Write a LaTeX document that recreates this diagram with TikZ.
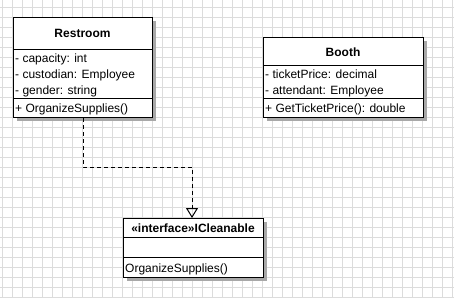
\documentclass[tikz,border=0pt]{standalone}
\usepackage{fontspec}
\setmainfont{Liberation Sans}
\usetikzlibrary{arrows.meta,shadows}
\definecolor{gridc}{HTML}{DCDCDC}
\definecolor{shadowc}{HTML}{A8A8A8}
\begin{document}
\begin{tikzpicture}[x=1pt,y=-1pt,
  classbox/.style={draw=black, line width=1pt, fill=white, inner sep=0pt, anchor=north west,
    drop shadow={shadow xshift=3pt, shadow yshift=-3pt, fill=shadowc, opacity=1}},
  titletext/.style={font=\fontsize{12}{14}\selectfont\bfseries, inner sep=0pt, anchor=base},
  membertext/.style={font=\fontsize{12}{14}\selectfont, inner sep=0pt, anchor=base west},
  divider/.style={draw=black, line width=1pt},
  realize/.style={draw=black, line width=1pt, dash pattern=on 4pt off 3pt,
    -{Triangle[open, width=12pt, length=10pt, line width=1pt]}}]
\useasboundingbox (0,0) rectangle (454,297);
\fill[white] (0,0) rectangle (454,297);
% grid
\foreach \gx in {2.5,12.5,...,452.5} \draw[gridc, line width=1pt] (\gx,0) -- (\gx,297);
\foreach \gy in {7,17,...,297} \draw[gridc, line width=1pt] (0,\gy) -- (454,\gy);

% Restroom
\node[classbox, minimum width=139pt, minimum height=100pt] (rest) at (13,17) {};
\node[titletext] (restT) at (82.5,37) {Restroom};
\draw[divider] (13,49) -- (152,49);
\node[membertext] (rest1) at (15,62) {- capacity: int};
\node[membertext] (rest2) at (15,78) {- custodian: Employee};
\node[membertext] (rest3) at (15,94) {- gender: string};
\draw[divider] (13,98) -- (152,98);
\node[membertext] (rest4) at (15,112) {+ OrganizeSupplies()};

% Booth
\node[classbox, minimum width=160pt, minimum height=80pt] (booth) at (263,37) {};
\node[titletext] (boothT) at (343,56) {Booth};
\draw[divider] (263,65) -- (423,65);
\node[membertext] (booth1) at (265,78) {- ticketPrice: decimal};
\node[membertext] (booth2) at (265,94) {- attendant: Employee};
\draw[divider] (263,98) -- (423,98);
\node[membertext] (booth3) at (265,112) {+ GetTicketPrice(): double};

% ICleanable
\node[classbox, minimum width=140pt, minimum height=59pt] (iclean) at (123,218) {};
\node[titletext] (icleanT) at (193,232) {«interface»ICleanable};
\draw[divider] (123,237) -- (263,237);
\draw[divider] (123,257) -- (263,257);
\node[membertext] (iclean1) at (125,272) {OrganizeSupplies()};

% realization
\coordinate (bend) at (192,167);
\coordinate (tip) at (192,218);
\draw[realize] (rest.south) |- (bend) -- (tip);
\end{tikzpicture}
\end{document}
